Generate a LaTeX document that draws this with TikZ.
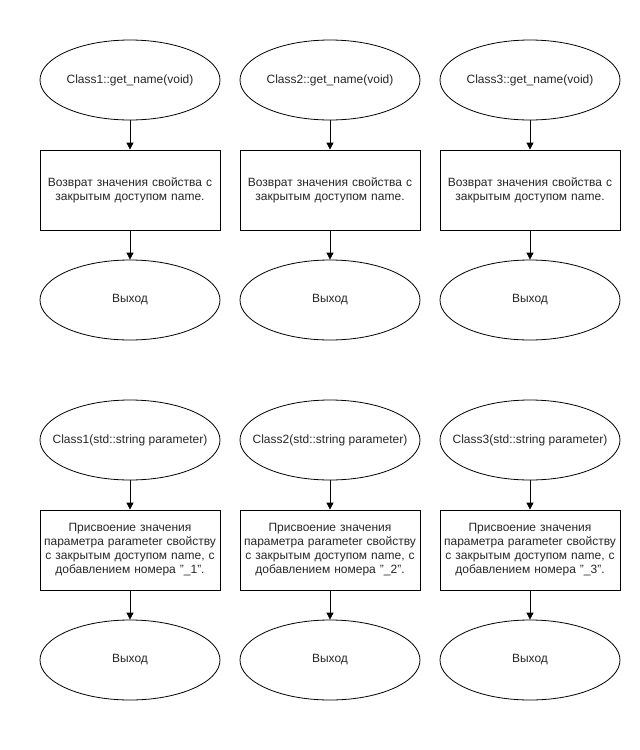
\documentclass[tikz,border=0pt]{standalone}
\usepackage{fontspec}
\setmainfont{Liberation Sans}
\usetikzlibrary{shapes.geometric,arrows.meta}
\newcommand{\sq}{\char34\relax}
\begin{document}
\begin{tikzpicture}[x=1pt,y=-1pt,
  every node/.style={font=\fontsize{12}{14}\selectfont, text=black!85, align=center},
  oval/.style={draw, ellipse, minimum width=180pt, minimum height=80pt, inner sep=0pt, line width=0.8pt},
  boxnode/.style={draw, rectangle, minimum width=180pt, minimum height=80pt, inner sep=0pt, line width=0.8pt, text width=172pt},
  conn/.style={-{Triangle[length=7pt,width=7pt]}, line width=0.8pt}]
\useasboundingbox (0,0) rectangle (640,750);
\foreach \i/\cx in {1/130,2/330,3/530}{
  \node[oval] (s\i) at (\cx,80) {\makebox[0pt]{Class\i::get\_name(void)}};
  \node[boxnode] (b\i) at (\cx,190) {Возврат значения свойства с\\закрытым доступом name.};
  \node[oval] (e\i) at (\cx,300) {\makebox[0pt]{Выход}};
  \draw[conn] (s\i) -- (b\i);
  \draw[conn] (b\i) -- (e\i);
  \node[oval] (t\i) at (\cx,440) {\makebox[0pt]{Class\i(std::string parameter)}};
  \node[boxnode] (c\i) at (\cx,550) {Присвоение значения\\параметра parameter свойству\\с закрытым доступом name, с\\добавлением номера \sq\_\i\sq.};
  \node[oval] (f\i) at (\cx,660) {\makebox[0pt]{Выход}};
  \draw[conn] (t\i) -- (c\i);
  \draw[conn] (c\i) -- (f\i);
}
\end{tikzpicture}
\end{document}
